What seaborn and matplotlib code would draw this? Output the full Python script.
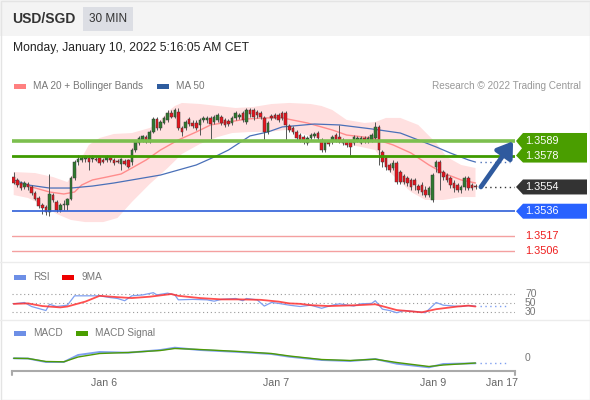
import matplotlib
matplotlib.use('Agg')
import matplotlib.pyplot as plt
import matplotlib.transforms as mtransforms
from matplotlib.patches import Polygon, Rectangle
import numpy as np
import seaborn as sns

# 30 min USD/SGD candles
opens = [
    1.35618, 1.35596, 1.35573, 1.35543, 1.35565, 1.35543, 1.35497, 1.35460, 1.35407, 1.35392,
    1.35354, 1.35482, 1.35429, 1.35369, 1.35407, 1.35407, 1.35452, 1.35611, 1.35731, 1.35747,
    1.35754, 1.35762, 1.35754, 1.35754, 1.35762, 1.35747, 1.35747, 1.35762, 1.35747, 1.35739,
    1.35716, 1.35739, 1.35747, 1.35731, 1.35822, 1.35875, 1.35898, 1.35920, 1.35882, 1.35958,
    1.36056, 1.35988, 1.36026, 1.36049, 1.36101, 1.36071, 1.36109, 1.35988, 1.35988, 1.36056,
    1.36026, 1.36026, 1.36011, 1.36049, 1.36049, 1.36064, 1.36033, 1.36049, 1.36071, 1.36049,
    1.36041, 1.36026, 1.36064, 1.36071, 1.36101, 1.36033, 1.36124, 1.36124, 1.36109, 1.36101,
    1.36064, 1.35958, 1.36079, 1.36086, 1.36086, 1.36101, 1.36101, 1.36003, 1.35988, 1.35958,
    1.35935, 1.35920, 1.35875, 1.35913, 1.35928, 1.35950, 1.35898, 1.35822, 1.35882, 1.35882,
    1.35935, 1.35920, 1.35875, 1.35882, 1.35882, 1.35875, 1.35898, 1.35875, 1.35913, 1.35890,
    1.35898, 1.35913, 1.35996, 1.35807, 1.35762, 1.35709, 1.35686, 1.35724, 1.35656, 1.35626,
    1.35611, 1.35596, 1.35596, 1.35550, 1.35558, 1.35520, 1.35482, 1.35445, 1.35694, 1.35731,
    1.35656, 1.35633, 1.35611, 1.35573, 1.35558, 1.35520, 1.35543, 1.35611, 1.35558, 1.35550,
]
highs = [
    1.35656, 1.35611, 1.35588, 1.35588, 1.35580, 1.35558, 1.35513, 1.35475, 1.35422, 1.35407,
    1.35641, 1.35497, 1.35445, 1.35422, 1.35445, 1.35460, 1.35626, 1.35747, 1.35784, 1.35777,
    1.35784, 1.35784, 1.35784, 1.35769, 1.35769, 1.35762, 1.35784, 1.35769, 1.35762, 1.35754,
    1.35762, 1.35754, 1.35754, 1.35837, 1.35898, 1.35928, 1.35935, 1.35935, 1.35973, 1.36071,
    1.36071, 1.36049, 1.36079, 1.36124, 1.36124, 1.36139, 1.36139, 1.36003, 1.36049, 1.36071,
    1.36049, 1.36049, 1.36064, 1.36079, 1.36079, 1.36079, 1.36086, 1.36101, 1.36086, 1.36064,
    1.36056, 1.36079, 1.36117, 1.36101, 1.36117, 1.36139, 1.36139, 1.36139, 1.36124, 1.36117,
    1.36079, 1.36041, 1.36094, 1.36101, 1.36101, 1.36117, 1.36117, 1.36018, 1.36003, 1.35973,
    1.35950, 1.35935, 1.35928, 1.35950, 1.35958, 1.35966, 1.35913, 1.35898, 1.35898, 1.35935,
    1.35950, 1.36011, 1.35913, 1.35898, 1.35898, 1.35935, 1.35928, 1.35928, 1.35928, 1.35928,
    1.35950, 1.36033, 1.36011, 1.35822, 1.35777, 1.35724, 1.35747, 1.35739, 1.35671, 1.35641,
    1.35626, 1.35611, 1.35611, 1.35565, 1.35580, 1.35550, 1.35550, 1.35648, 1.35747, 1.35747,
    1.35671, 1.35648, 1.35626, 1.35596, 1.35573, 1.35558, 1.35626, 1.35626, 1.35573, 1.35565,
]
lows = [
    1.35565, 1.35543, 1.35520, 1.35528, 1.35520, 1.35482, 1.35445, 1.35384, 1.35339, 1.35331,
    1.35324, 1.35429, 1.35354, 1.35354, 1.35369, 1.35369, 1.35445, 1.35596, 1.35709, 1.35731,
    1.35731, 1.35671, 1.35731, 1.35739, 1.35709, 1.35724, 1.35731, 1.35731, 1.35709, 1.35724,
    1.35671, 1.35709, 1.35686, 1.35709, 1.35807, 1.35860, 1.35882, 1.35875, 1.35875, 1.35950,
    1.35973, 1.35973, 1.36018, 1.36033, 1.36064, 1.36064, 1.35973, 1.35928, 1.35973, 1.36003,
    1.35988, 1.35973, 1.35935, 1.36033, 1.36026, 1.35905, 1.36018, 1.36033, 1.36011, 1.35996,
    1.36003, 1.36011, 1.36049, 1.36056, 1.36033, 1.36018, 1.36071, 1.36049, 1.36064, 1.36056,
    1.35898, 1.35943, 1.36049, 1.36056, 1.36033, 1.36049, 1.35898, 1.35958, 1.35943, 1.35898,
    1.35882, 1.35867, 1.35860, 1.35898, 1.35913, 1.35898, 1.35807, 1.35807, 1.35852, 1.35867,
    1.35882, 1.35875, 1.35860, 1.35845, 1.35784, 1.35860, 1.35882, 1.35867, 1.35875, 1.35875,
    1.35882, 1.35898, 1.35709, 1.35694, 1.35671, 1.35656, 1.35671, 1.35565, 1.35565, 1.35565,
    1.35550, 1.35520, 1.35520, 1.35497, 1.35482, 1.35467, 1.35467, 1.35429, 1.35656, 1.35520,
    1.35596, 1.35580, 1.35535, 1.35505, 1.35505, 1.35497, 1.35520, 1.35520, 1.35520, 1.35528,
]
closes = [
    1.35573, 1.35558, 1.35535, 1.35573, 1.35543, 1.35497, 1.35452, 1.35399, 1.35384, 1.35354,
    1.35490, 1.35445, 1.35369, 1.35407, 1.35414, 1.35452, 1.35611, 1.35731, 1.35754, 1.35762,
    1.35769, 1.35731, 1.35762, 1.35747, 1.35724, 1.35731, 1.35769, 1.35747, 1.35724, 1.35731,
    1.35754, 1.35716, 1.35694, 1.35822, 1.35882, 1.35913, 1.35928, 1.35882, 1.35958, 1.36056,
    1.35988, 1.36033, 1.36064, 1.36101, 1.36071, 1.36124, 1.35988, 1.35958, 1.36033, 1.36018,
    1.36003, 1.35988, 1.36049, 1.36064, 1.36064, 1.36018, 1.36071, 1.36086, 1.36026, 1.36011,
    1.36018, 1.36064, 1.36101, 1.36086, 1.36049, 1.36124, 1.36094, 1.36071, 1.36086, 1.36071,
    1.35958, 1.36026, 1.36064, 1.36064, 1.36049, 1.36064, 1.36011, 1.35973, 1.35958, 1.35913,
    1.35898, 1.35882, 1.35913, 1.35935, 1.35943, 1.35913, 1.35822, 1.35882, 1.35867, 1.35920,
    1.35898, 1.35882, 1.35898, 1.35860, 1.35845, 1.35920, 1.35913, 1.35913, 1.35890, 1.35913,
    1.35935, 1.35996, 1.35822, 1.35731, 1.35694, 1.35671, 1.35724, 1.35580, 1.35580, 1.35580,
    1.35573, 1.35543, 1.35558, 1.35520, 1.35505, 1.35482, 1.35535, 1.35633, 1.35731, 1.35648,
    1.35618, 1.35596, 1.35558, 1.35535, 1.35520, 1.35543, 1.35611, 1.35535, 1.35535, 1.35543,
]

# indicators, sampled at candle indices
ma20_idx = [0, 5, 10, 14, 17, 19, 22, 26, 30, 33, 37, 41, 46, 51, 55, 60, 65, 70, 75, 82,
            89, 93, 100, 106, 111, 116, 120, 125, 129]
ma20 = [1.35580, 1.35543, 1.35505, 1.35490, 1.35505, 1.35558, 1.35596, 1.35618, 1.35641, 1.35686,
        1.35747, 1.35822, 1.35898, 1.35958, 1.36011, 1.36033, 1.36056, 1.36064, 1.36064, 1.36026,
        1.35973, 1.35935, 1.35913, 1.35860, 1.35799, 1.35709, 1.35648, 1.35596, 1.35573]
ma50_idx = [0, 4, 10, 16, 22, 28, 33, 41, 51, 56, 60, 63, 66, 71, 75, 84, 91, 100, 108, 113,
            118, 122, 127, 129]
ma50 = [1.35596, 1.35558, 1.35535, 1.35535, 1.35550, 1.35573, 1.35596, 1.35633, 1.35709, 1.35769,
        1.35822, 1.35875, 1.35928, 1.35958, 1.35996, 1.36018, 1.36011, 1.35981, 1.35950, 1.35898,
        1.35845, 1.35799, 1.35747, 1.35731]
bb_up_idx = [0, 6, 11, 15, 17, 19, 21, 24, 28, 33, 38, 40, 43, 45, 47, 52, 57, 62, 67, 72,
             77, 83, 86, 89, 93, 98, 101, 104, 108, 113, 118, 121, 125, 129]
bb_up = [1.35656, 1.35648, 1.35618, 1.35580, 1.35656, 1.35762, 1.35860, 1.35913, 1.35943, 1.35950,
         1.35988, 1.36018, 1.36109, 1.36154, 1.36177, 1.36169, 1.36154, 1.36139, 1.36147, 1.36169,
         1.36177, 1.36169, 1.36154, 1.36124, 1.36049, 1.36026, 1.36033, 1.36064, 1.36064, 1.36011,
         1.35875, 1.35769, 1.35709, 1.35686]
bb_lo_idx = [0, 4, 8, 12, 16, 20, 25, 29, 33, 38, 43, 47, 52, 57, 61, 66, 71, 76, 80, 86,
             91, 97, 101, 105, 111, 115, 120, 125, 129]
bb_lo = [1.35482, 1.35460, 1.35407, 1.35339, 1.35294, 1.35278, 1.35278, 1.35309, 1.35429, 1.35565,
         1.35686, 1.35792, 1.35867, 1.35920, 1.35950, 1.35958, 1.35958, 1.35973, 1.35950, 1.35898,
         1.35875, 1.35845, 1.35822, 1.35656, 1.35505, 1.35445, 1.35445, 1.35467, 1.35467]

resistances = [1.3589, 1.3578]
pivot = 1.3536
supports = [1.3517, 1.3506]

rsi_idx = [0, 3, 5, 9, 10, 12, 15, 17, 20, 24, 27, 29, 31, 33, 36, 39, 40, 43, 45, 46,
           50, 54, 56, 58, 62, 64, 65, 68, 70, 72, 74, 77, 80, 83, 86, 89, 91, 95, 97, 100,
           101, 103, 105, 107, 109, 113, 115, 118, 120, 123, 125, 127, 129]
rsi = [49, 52, 43, 34, 48, 43, 46, 67, 67, 67, 63, 61, 56, 67, 69, 74, 69, 73, 69, 58,
       59, 58, 55, 59, 61, 56, 61, 58, 44, 52, 50, 46, 43, 46, 39, 46, 49, 44, 49, 50,
       56, 37, 34, 29, 34, 31, 29, 52, 46, 44, 43, 45, 44]
rsi_ma_idx = [0, 4, 8, 13, 15, 20, 24, 29, 33, 38, 44, 46, 52, 58, 63, 69, 74, 77, 80, 83,
              88, 96, 101, 107, 114, 118, 124, 127, 129]
rsi_ma = [49, 50, 44, 41, 43, 54, 67, 64, 62, 65, 71, 67, 62, 59, 59, 58, 54, 50, 49, 46,
          44, 46, 48, 35, 30, 37, 43, 45, 43]
rsi_levels = [70, 50, 30]

macd_idx = [0, 4, 9, 14, 18, 24, 32, 41, 45, 52, 63, 72, 77, 86, 94, 101, 107, 116, 120, 129]
macd = [-0.3e-5, -0.5e-5, -4.0e-5, -4.0e-5, 3.0e-5, 6.0e-5, 5.3e-5, 8.0e-5, 10.3e-5, 8.0e-5,
        6.0e-5, 4.0e-5, 1.3e-5, -2.0e-5, -3.0e-5, -1.0e-5, -5.7e-5, -9.3e-5, -6.0e-5, -5.3e-5]
macd_signal = [-0.3e-5, -0.5e-5, -3.5e-5, -3.8e-5, 1.0e-5, 4.5e-5, 5.5e-5, 7.5e-5, 9.5e-5, 8.5e-5,
               6.5e-5, 4.5e-5, 2.0e-5, -1.5e-5, -2.5e-5, -1.2e-5, -4.5e-5, -8.5e-5, -7.0e-5, -5.0e-5]

date_ticks = [25.2, 73.3, 117.1, 136.4]
date_labels = ['Jan 6', 'Jan 7', 'Jan 9', 'Jan 17']

W, H = 590, 400
XLIM = (-0.475, 140.03)


def px_rect(x0, y0, x1, y1):
    return [x0 / W, 1 - y1 / H, (x1 - x0) / W, (y1 - y0) / H]


def main():
    sns.set_theme(style='white')
    plt.rcParams['font.family'] = ['Liberation Sans', 'DejaVu Sans']

    fig = plt.figure(figsize=(W / 100, H / 100), dpi=100)
    bg = fig.add_axes([0, 0, 1, 1])
    bg.set_xlim(0, W)
    bg.set_ylim(H, 0)
    bg.axis('off')

    def y_px(axis, value):
        disp = axis.transData.transform((0, value))
        return bg.transData.inverted().transform(disp)[1]

    def legend_item(x, y, color, label):
        bg.add_patch(Rectangle((x, y - 2.5), 12, 5, color=color, lw=0))
        bg.text(x + 19, y, label, fontsize=7.2, color='#777777', va='center')

    # header + frame
    bg.add_patch(Rectangle((0, 0), W, 36, color='#f4f4f4', lw=0))
    bg.add_patch(Rectangle((83, 7), 50, 24, color='#dcdee4', lw=0))
    bg.text(12, 19, 'USD/SGD', fontsize=10, fontweight='bold', color='#333333', va='center')
    bg.text(108, 19, '30 MIN', fontsize=8.5, color='#333333', va='center', ha='center')
    bg.text(13, 48, 'Monday, January 10, 2022 5:16:05 AM CET', fontsize=8.7,
            color='#222222', va='center')
    bg.add_patch(Rectangle((0.5, 0.5), W - 1, H - 1, fill=False, ec='#e4e4e4', lw=1))
    bg.plot([0, W], [262, 262], color='#ececec', lw=1)
    bg.plot([0, W], [320, 320], color='#ececec', lw=1)

    legend_item(14, 86, '#ff8080', 'MA 20 + Bollinger Bands')
    legend_item(157, 86, '#2e5c9e', 'MA 50')
    bg.text(581, 86, 'Research \u00a9 2022 Trading Central', fontsize=7.2,
            color='#999999', va='center', ha='right')
    legend_item(14, 277, '#6d8fe6', 'RSI')
    legend_item(62, 277, '#ee0000', '9MA')
    legend_item(14, 333, '#6d8fe6', 'MACD')
    legend_item(76, 333, '#4a9e00', 'MACD Signal')

    # ---- price panel
    ax = fig.add_axes(px_rect(12, 95, 515, 258))
    ax.set_facecolor('none')
    ax.set_xlim(*XLIM)
    ax.set_ylim(1.35007, 1.36237)
    ax.axis('off')

    ax.fill(np.r_[bb_up_idx, bb_lo_idx[::-1]], np.r_[bb_up, bb_lo[::-1]],
            color='#ffe0e0', lw=0, zorder=1)
    sns.lineplot(x=ma20_idx, y=ma20, ax=ax, color='#ff8c8c', lw=1.0, legend=False, zorder=2)
    sns.lineplot(x=ma50_idx, y=ma50, ax=ax, color='#4a70b8', lw=0.9, legend=False, zorder=2)

    n = len(closes)
    idx = np.arange(n)
    o, h, l, c = map(np.array, (opens, highs, lows, closes))
    colors = np.where(c >= o, '#2f7a2f', '#e8141e')
    ax.vlines(idx, l, h, color='#555555', lw=0.7, zorder=3)
    ax.bar(idx, np.maximum(np.abs(c - o), 0.00003), bottom=np.minimum(o, c), width=0.72,
           color=colors, edgecolor='#3a3a3a', linewidth=0.35, zorder=4)

    ax.axhline(resistances[0], color='#7cbf4e', lw=2.6, zorder=5)
    ax.axhline(resistances[1], color='#3f9a00', lw=2.0, zorder=5)
    ax.axhline(pivot, color='#2e5fd8', lw=1.2, zorder=5)
    for s in supports:
        ax.axhline(s, color='#f4a0a0', lw=1.0, zorder=5)

    ax.plot([n + 0.2, XLIM[1]], [closes[-1]] * 2, color='#333333', lw=1, ls=(0, (1, 2.5)), zorder=5)
    ax.plot([n + 0.2, XLIM[1] - 1.3], [ma50[-1]] * 2, color='#4a70b8', lw=1, ls=(0, (1, 2.5)), zorder=5)
    ax.annotate('', xy=(n + 9.5, resistances[0] - 0.00002), xytext=(n + 0.5, closes[-1]),
                arrowprops=dict(arrowstyle='-|>,head_length=0.75,head_width=0.5',
                                color='#2f5a9e', lw=3.4, shrinkA=0, shrinkB=0,
                                mutation_scale=12),
                annotation_clip=False, zorder=7)

    # right-hand price labels
    y1, y2 = y_px(ax, resistances[0]), y_px(ax, resistances[1])
    bg.add_patch(Polygon([(523, y1 - 8), (587, y1 - 8), (587, y2 + 7), (523, y2 + 7),
                          (516, y2), (522, (y1 + y2) / 2), (516, y1)],
                         closed=True, color='#4a9e00', lw=0))
    for lv, yy in zip(resistances, (y1, y2)):
        bg.text(525, yy, f'{lv:.4f}', color='white', fontsize=7.8, va='center')
    for lv, col in ((closes[-1], '#333333'), (pivot, '#2962ff')):
        yy = y_px(ax, lv)
        bg.add_patch(Polygon([(523, yy - 7.5), (587, yy - 7.5), (587, yy + 7.5),
                              (523, yy + 7.5), (516, yy)], closed=True, color=col, lw=0))
        bg.text(525, yy, f'{lv:.4f}', color='white', fontsize=7.8, va='center')
    for lv in supports:
        bg.text(525, y_px(ax, lv), f'{lv:.4f}', color='#ee1c1c', fontsize=7.8, va='center')

    # ---- RSI panel
    ax_rsi = fig.add_axes(px_rect(12, 285, 515, 318))
    ax_rsi.set_facecolor('none')
    ax_rsi.set_xlim(*XLIM)
    ax_rsi.set_ylim(17.2, 91.3)
    ax_rsi.axis('off')
    for lv in rsi_levels:
        ax_rsi.axhline(lv, color='#9a9a9a', lw=0.8, ls=(0, (1, 2.5)))
        bg.text(525, y_px(ax_rsi, lv), str(lv), fontsize=7.5, color='#777777', va='center')
    sns.lineplot(x=rsi_idx, y=rsi, ax=ax_rsi, color='#7f9ff0', lw=0.9, legend=False)
    sns.lineplot(x=rsi_ma_idx, y=rsi_ma, ax=ax_rsi, color='#ff3030', lw=1.3, alpha=0.85,
                 legend=False)
    ax_rsi.plot([n + 0.3, XLIM[1] - 2], [rsi[-1]] * 2, color='#7f9ff0', lw=1, ls=(0, (1, 2.5)))

    # ---- MACD panel
    ax_macd = fig.add_axes(px_rect(12, 338, 515, 371))
    ax_macd.set_facecolor('none')
    ax_macd.set_xlim(*XLIM)
    ax_macd.set_ylim(-13e-5, 20e-5)
    sns.lineplot(x=macd_idx, y=macd, ax=ax_macd, color='#7f9ff0', lw=1.4, legend=False)
    sns.lineplot(x=macd_idx, y=macd_signal, ax=ax_macd, color='#4e9a06', lw=1.0, legend=False)
    ax_macd.plot([n + 0.3, XLIM[1] - 2], [macd[-1]] * 2, color='#7f9ff0', lw=1, ls=(0, (1, 2.5)))
    bg.text(525, y_px(ax_macd, 0), '0', fontsize=7.5, color='#777777', va='center')

    for side in ('top', 'left', 'right'):
        ax_macd.spines[side].set_visible(False)
    ax_macd.spines['bottom'].set_color('#aaaaaa')
    ax_macd.spines['bottom'].set_linewidth(1.5)
    ax_macd.set_yticks([])
    ax_macd.set_ylabel('')
    ax_macd.set_xticks(date_ticks)
    ax_macd.set_xticklabels(date_labels)
    ax_macd.tick_params(axis='x', length=0, pad=5, labelsize=7.7, labelcolor='#666666')
    trans = mtransforms.blended_transform_factory(ax_macd.transData, ax_macd.transAxes)
    for xe in XLIM:
        ax_macd.plot([xe, xe], [0, -0.13], transform=trans, clip_on=False,
                     color='#aaaaaa', lw=1.5)

    fig.savefig('out.png', dpi=100)
    plt.close(fig)


if __name__ == '__main__':
    main()
